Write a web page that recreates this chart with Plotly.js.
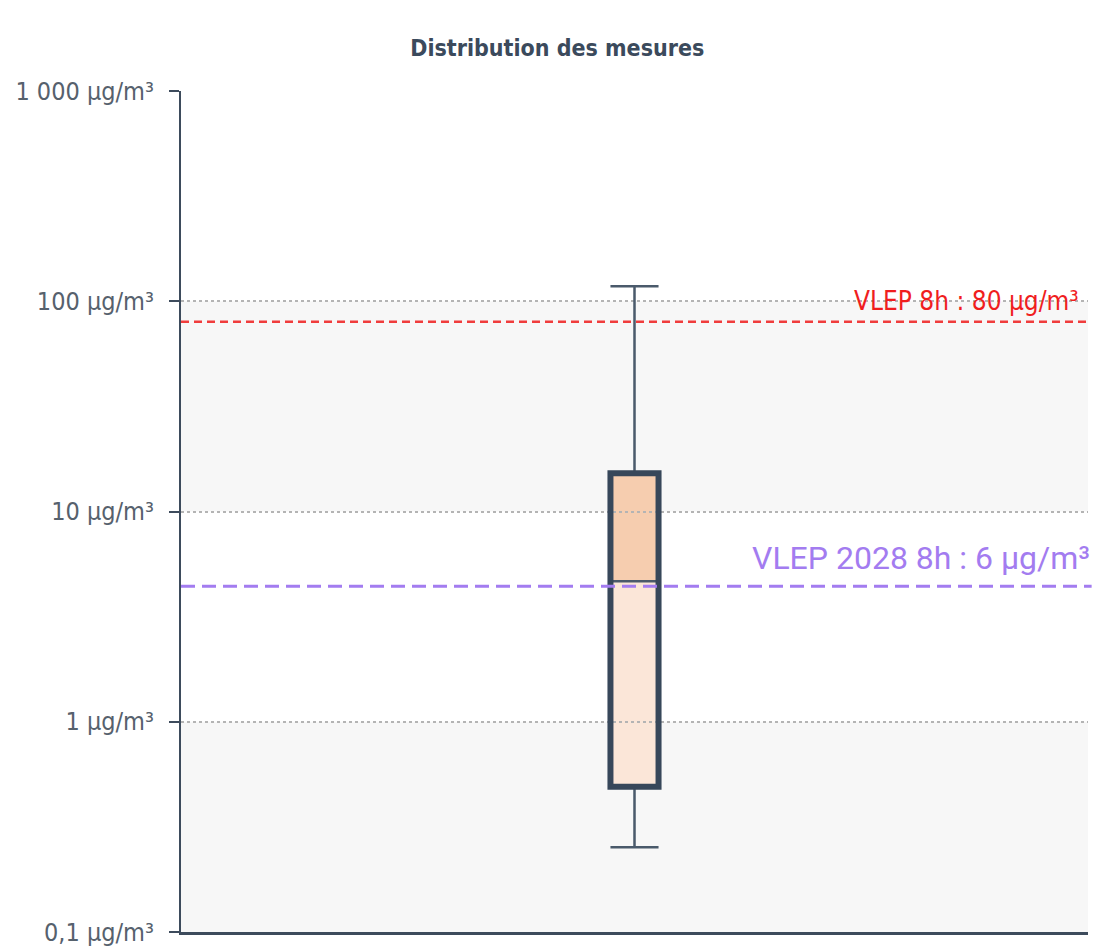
<!DOCTYPE html>
<html>
<head>
<meta charset="utf-8">
<script src="https://cdn.plot.ly/plotly-3.0.1.min.js"></script>
<style>html,body{margin:0;padding:0;background:#fff;}#chart{width:1097px;height:948px;}</style>
</head>
<body>
<div id="chart"></div>
<script>
// Data
const titleText = "Distribution des mesures";
const tickVals = [0.1, 1, 10, 100, 1000];
const tickLabels = ["0,1 µg/m³", "1 µg/m³", "10 µg/m³", "100 µg/m³", "1 000 µg/m³"];
const boxQ1 = [0.49];
const boxMedian = [4.66];
const boxQ3 = [15.2];
const boxLower = [0.253];
const boxUpper = [118];
const refValues = [80, 4.41];
const refLabels = ["VLEP 8h : 80 µg/m³", "VLEP 2028 8h : 6 µg/m³"];
const bandRanges = [[10, 100], [0.1, 1]];

const boxX = 0;
const boxW = 0.053;
const dark = "#37475a";

const shapes = [];
bandRanges.forEach(b => shapes.push({
  type: "rect", layer: "below", xref: "paper", yref: "y",
  x0: 0, x1: 1, y0: b[0], y1: b[1], fillcolor: "#f7f7f7", line: {width: 0}
}));
// box fills (below gridlines)
shapes.push({type: "rect", layer: "below", xref: "x", yref: "y",
  x0: boxX - boxW/2, x1: boxX + boxW/2, y0: boxQ1[0], y1: boxMedian[0],
  fillcolor: "#fbe6d8", line: {width: 0}});
shapes.push({type: "rect", layer: "below", xref: "x", yref: "y",
  x0: boxX - boxW/2, x1: boxX + boxW/2, y0: boxMedian[0], y1: boxQ3[0],
  fillcolor: "#f6cdaf", line: {width: 0}});
// thick outline
shapes.push({type: "rect", layer: "above", xref: "x", yref: "y",
  x0: boxX - boxW/2, x1: boxX + boxW/2, y0: boxQ1[0], y1: boxQ3[0],
  fillcolor: "rgba(0,0,0,0)", line: {width: 6, color: dark}});
// reference lines
shapes.push({type: "line", layer: "above", xref: "paper", yref: "y",
  x0: 0, x1: 1, y0: refValues[0], y1: refValues[0],
  line: {color: "#f03c3c", width: 2.5, dash: "8px,5px"}});
shapes.push({type: "line", layer: "above", xref: "paper", yref: "y",
  x0: 0, x1: 1.004, y0: refValues[1], y1: refValues[1],
  line: {color: "#a37cf0", width: 3, dash: "14px,7px"}});

const annotations = [
  {xref: "paper", yref: "y", x: 0.992, y: Math.log10(refValues[0]), xanchor: "right", yanchor: "bottom",
   yshift: 4, text: refLabels[0], showarrow: false,
   font: {family: "Liberation Sans Narrow, DejaVu Sans Condensed, Roboto, sans-serif", size: 26, color: "#f01e1e"}},
  {xref: "paper", yref: "y", x: 1.004, y: Math.log10(refValues[1]), xanchor: "right", yanchor: "bottom",
   yshift: 7, text: refLabels[1], showarrow: false,
   font: {family: "Roboto, sans-serif", size: 32, color: "#a37cf0"}}
];

const trace = {
  type: "box", x: [boxX], q1: boxQ1, median: boxMedian, q3: boxQ3,
  lowerfence: boxLower, upperfence: boxUpper,
  width: boxW, whiskerwidth: 1,
  fillcolor: "rgba(0,0,0,0)",
  line: {color: "#4a5a6b", width: 2.5},
  boxpoints: false, hoverinfo: "skip", showlegend: false
};

const layout = {
  width: 1097, height: 948,
  margin: {l: 181, r: 9, t: 91, b: 16},
  paper_bgcolor: "#ffffff", plot_bgcolor: "rgba(0,0,0,0)",
  title: {text: titleText, x: 0.508, xref: "container", xanchor: "center",
    y: 1 - 48/948, yref: "container", yanchor: "middle",
    font: {family: "Liberation Sans Narrow, DejaVu Sans Condensed, sans-serif", size: 23, weight: 700, color: "#3b4a5c"}},
  xaxis: {range: [-0.5, 0.5], showgrid: false, zeroline: false, showticklabels: false, ticks: "",
    showline: true, linecolor: "#3d4b5c", linewidth: 2.5, fixedrange: true},
  yaxis: {type: "log", range: [-1.0005, 3.0005], tickvals: tickVals, ticktext: tickLabels,
    showgrid: true, gridcolor: "#b4b4b4", gridwidth: 2, griddash: "dot",
    zeroline: false, showline: true, linecolor: "#3d4b5c", linewidth: 2,
    ticks: "outside", ticklen: 10, tickwidth: 2, tickcolor: "#3d4b5c", ticklabelstandoff: 10,
    tickfont: {family: "Liberation Sans Narrow, DejaVu Sans Condensed, sans-serif", size: 25, color: "#56616d"},
    fixedrange: true},
  shapes: shapes,
  annotations: annotations
};

Plotly.newPlot("chart", [trace], layout, {displayModeBar: false, staticPlot: true});
</script>
</body>
</html>
